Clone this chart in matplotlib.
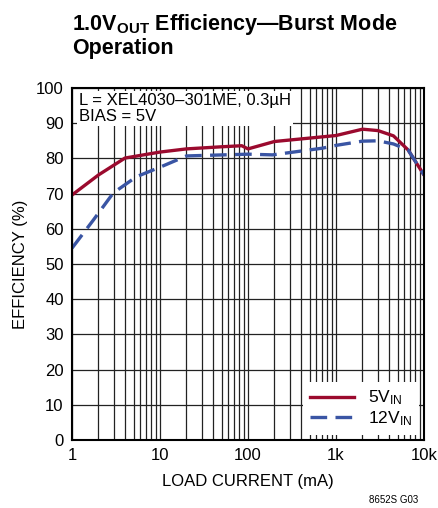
import matplotlib
matplotlib.use('Agg')
import matplotlib.pyplot as plt
from matplotlib import font_manager

names = {f.name for f in font_manager.fontManager.ttflist}
fam = 'Liberation Sans Narrow' if 'Liberation Sans Narrow' in names else 'Liberation Sans'
plt.rcParams['font.family'] = [fam, 'DejaVu Sans']
plt.rcParams['mathtext.fontset'] = 'custom'
plt.rcParams['mathtext.rm'] = fam
plt.rcParams['mathtext.it'] = fam
plt.rcParams['mathtext.bf'] = fam + ':bold'

# 5V input
i5 = [1, 2, 4, 10, 20, 50, 85, 100, 200, 1000, 2000, 3000, 4500, 6600, 10000]
e5 = [69.6, 75.3, 80.1, 81.8, 82.7, 83.3, 83.6, 82.7, 84.8, 86.5, 88.3, 87.9, 86.4, 82.4, 75.3]
# 12V input
i12 = [1, 1.75, 2.95, 5.4, 10, 20, 100, 190, 700, 1000, 2000, 3000, 4500, 6600, 10000]
e12 = [54.5, 62.5, 70.2, 74.8, 77.5, 80.7, 81.2, 81.0, 82.9, 83.7, 84.9, 85.0, 84.1, 82.4, 75.3]

xticks = [1, 10, 100, 1000, 10000]
xlabels = ['1', '10', '100', '1k', '10k']
yticks = list(range(0, 101, 10))

red = '#9b0a2e'
blue = '#3a55a4'

fig = plt.figure(figsize=(4.38, 5.08), dpi=100)
ax = fig.add_axes([72/438, 1-440/508, 352/438, 352/508])
ax.set_xscale('log')
ax.set_xlim(1, 10000)
ax.set_ylim(0, 100)
ax.grid(True, which='both', axis='x', color='#222222', lw=0.9)
ax.grid(True, which='major', axis='y', color='#222222', lw=0.9)
ax.set_axisbelow(True)

ax.plot(i5, e5, color=red, lw=2.4, label='5V$_{\\mathregular{IN}}$')
ax.plot(i12, e12, color=blue, lw=2.4, ls=(0, (5, 2.5)), label='12V$_{\\mathregular{IN}}$')

ax.set_xticks(xticks)
ax.set_xticklabels(xlabels)
ax.set_yticks(yticks)
ax.tick_params(which='both', length=0, labelsize=12, pad=6)
for s in ax.spines.values():
    s.set_linewidth(1.5)
    s.set_color('black')

ax.set_xlabel('LOAD CURRENT (mA)', fontsize=12, labelpad=8)
ax.set_ylabel('EFFICIENCY (%)', fontsize=12, labelpad=6)

ax.text(0.02, 0.985, 'L = XEL4030\u2013301ME, 0.3\u00b5H\nBIAS = 5V', transform=ax.transAxes,
        fontsize=12, va='top', ha='left', linespacing=1.1,
        bbox=dict(facecolor='white', edgecolor='none', pad=1.5))

leg = ax.legend(loc='lower right', fontsize=12.5, frameon=True, fancybox=False,
                handlelength=2.5, borderaxespad=0.3, labelspacing=0.1)
leg.get_frame().set_edgecolor('none')
leg.get_frame().set_alpha(1)

fig.text(72/438, 1-12/508, '1.0V$_{\\mathregular{OUT}}$ Efficiency\u2014Burst Mode\nOperation',
         fontsize=15.5, fontweight='bold', va='top', ha='left', linespacing=1.05)
fig.text(418/438, 1-505/508, '8652S G03', fontsize=7, ha='right', va='bottom')

fig.savefig('out.png', dpi=100)
